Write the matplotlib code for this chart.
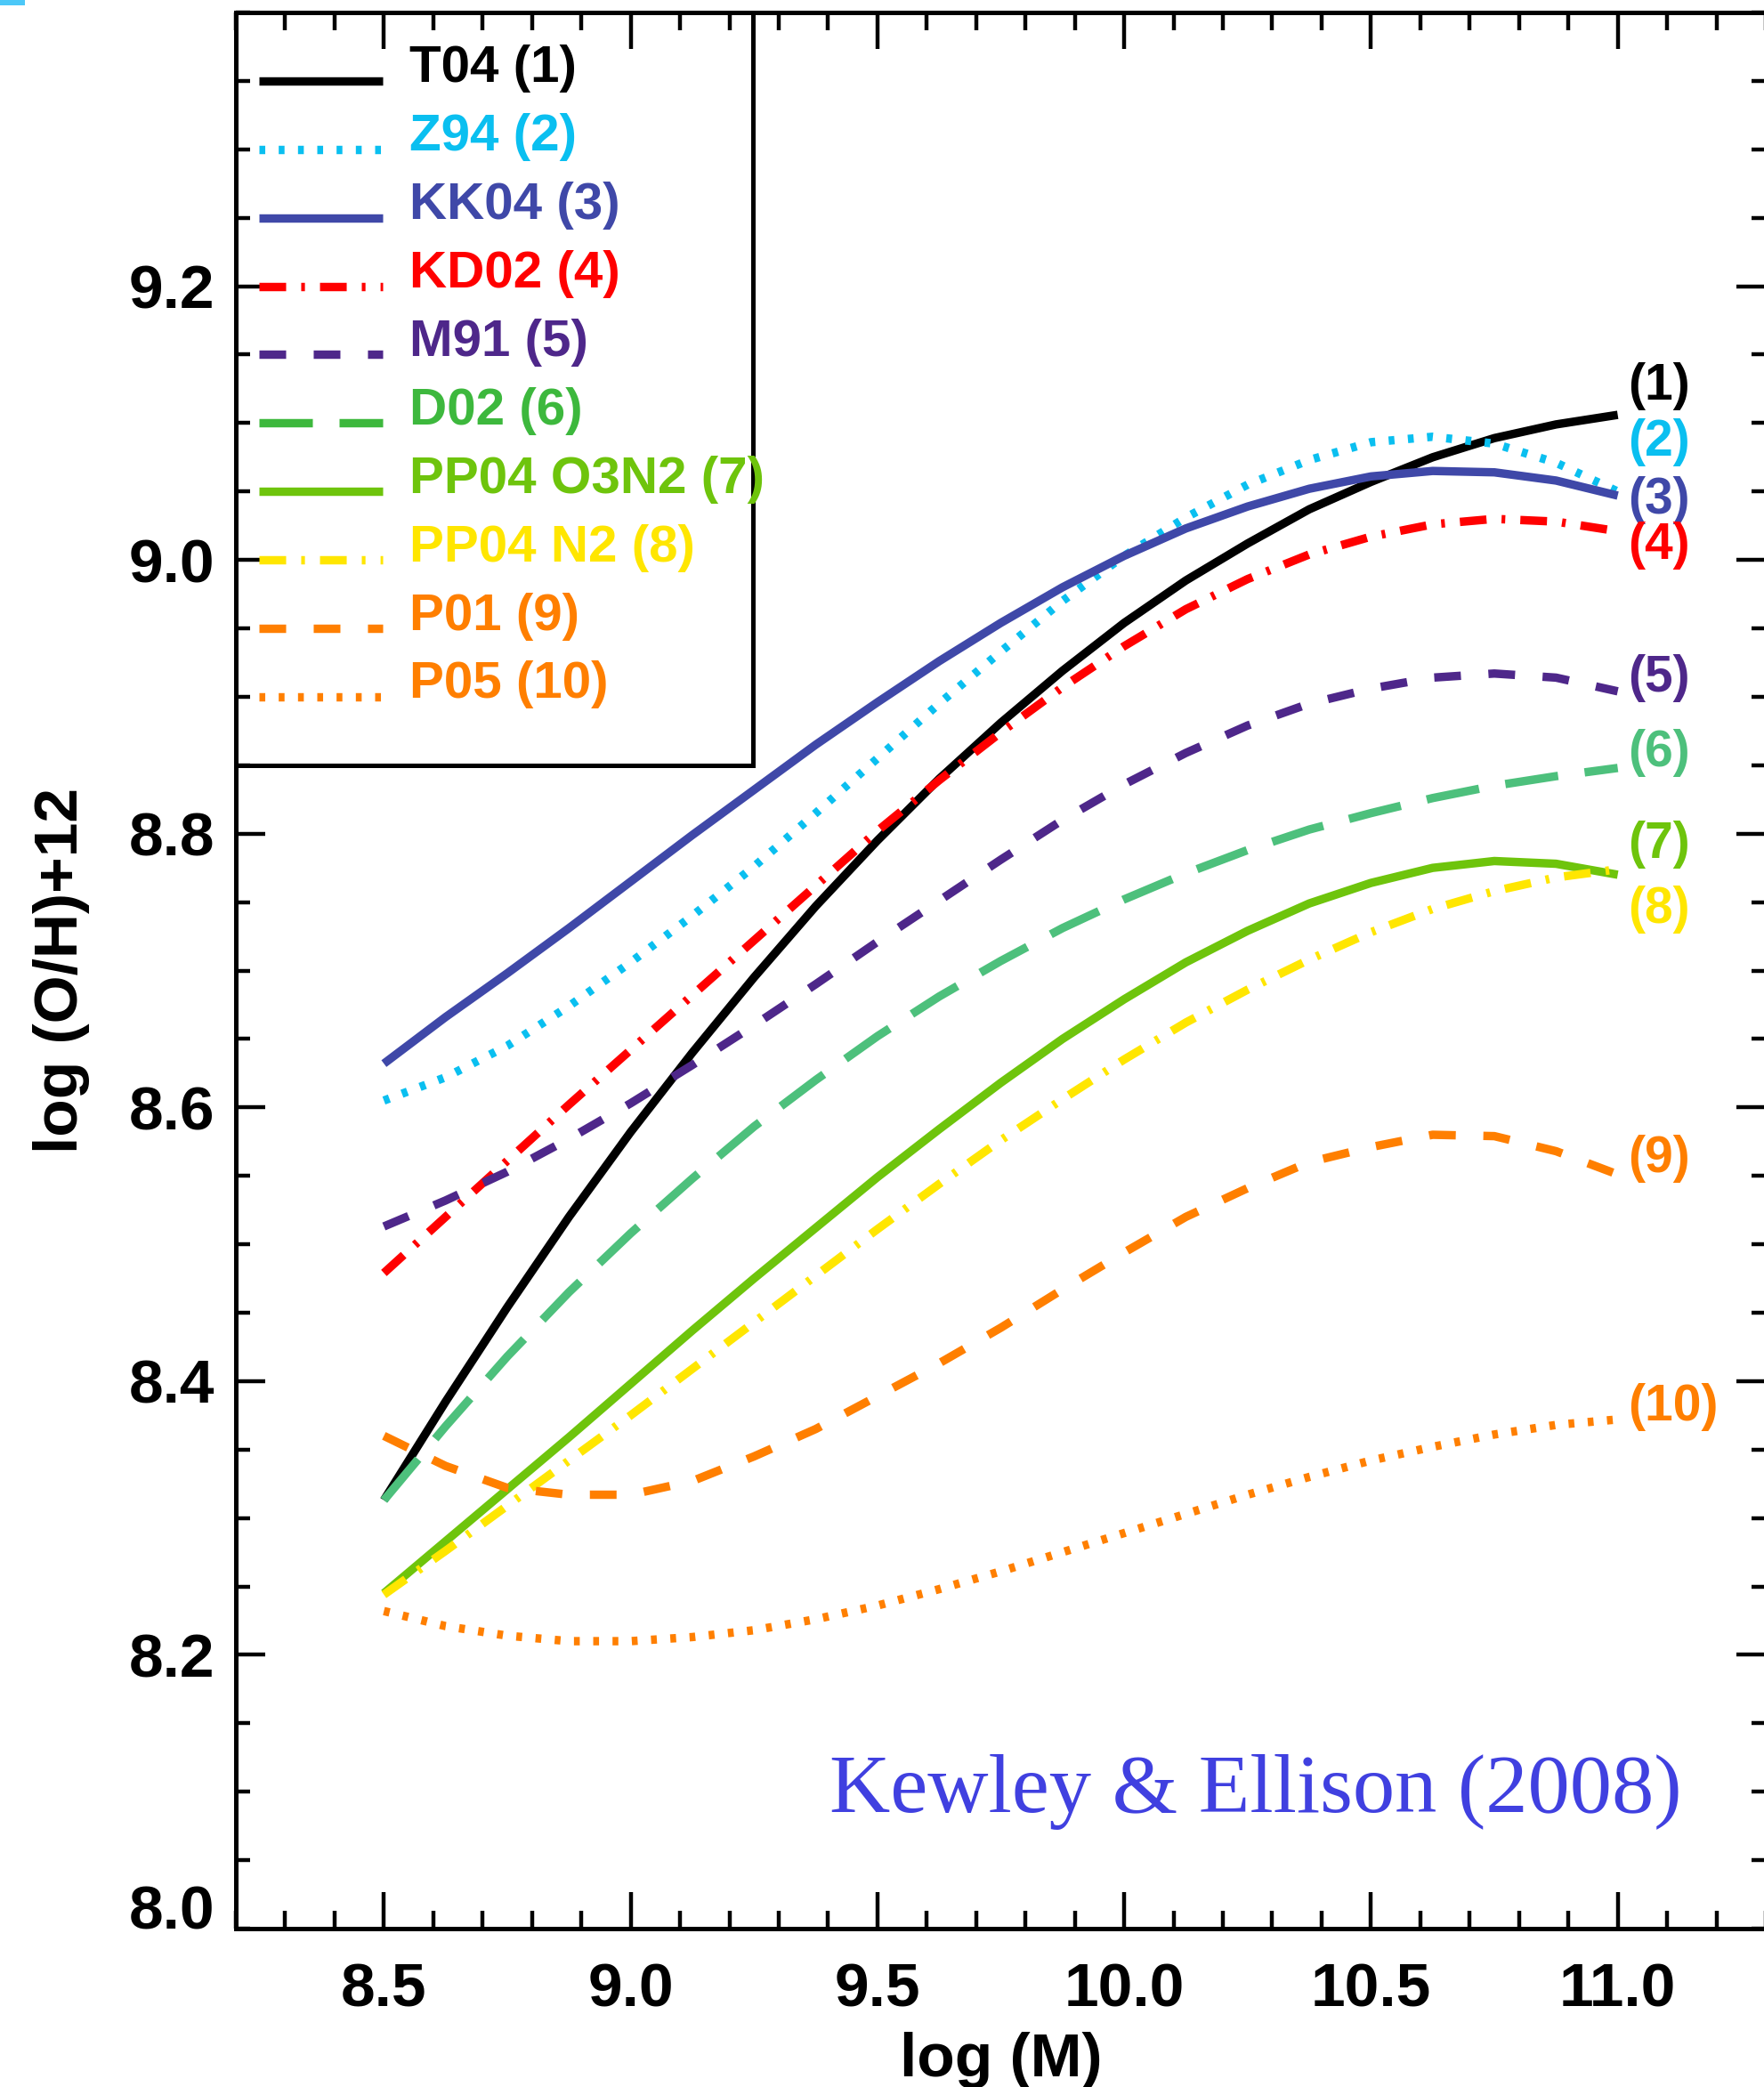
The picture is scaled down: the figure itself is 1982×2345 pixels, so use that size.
import matplotlib
matplotlib.use("Agg")
import matplotlib.pyplot as plt
from matplotlib.ticker import FixedLocator, MultipleLocator, FormatStrFormatter
from matplotlib.patches import Rectangle

plt.rcParams['font.family'] = ['Liberation Sans', 'DejaVu Sans']
plt.rcParams['font.weight'] = 'bold'
plt.rcParams['lines.scale_dashes'] = False

# ---------------- data ----------------
log_mass = [8.5, 8.625, 8.75, 8.875, 9.0, 9.125, 9.25, 9.375, 9.5, 9.625, 9.75,
            9.875, 10.0, 10.125, 10.25, 10.375, 10.5, 10.625, 10.75, 10.875, 11.0]

t04 = [8.313, 8.385, 8.454, 8.520, 8.582, 8.640, 8.695, 8.747, 8.795, 8.840, 8.881,
       8.919, 8.954, 8.985, 9.012, 9.037, 9.057, 9.075, 9.089, 9.099, 9.106]
z94 = [8.605, 8.622, 8.645, 8.674, 8.706, 8.740, 8.776, 8.815, 8.855, 8.895, 8.933,
       8.970, 9.003, 9.031, 9.055, 9.073, 9.086, 9.090, 9.085, 9.071, 9.050]
kk04 = [8.632, 8.666, 8.698, 8.731, 8.765, 8.799, 8.832, 8.865, 8.896, 8.926, 8.954,
        8.980, 9.003, 9.023, 9.039, 9.052, 9.061, 9.065, 9.064, 9.058, 9.047]
kd02 = [8.479, 8.520, 8.561, 8.602, 8.642, 8.682, 8.722, 8.762, 8.802, 8.839, 8.874,
        8.907, 8.937, 8.964, 8.986, 9.004, 9.017, 9.026, 9.030, 9.028, 9.021]
m91 = [8.513, 8.532, 8.553, 8.577, 8.603, 8.631, 8.660, 8.690, 8.721, 8.751, 8.781,
       8.810, 8.836, 8.859, 8.879, 8.895, 8.906, 8.914, 8.917, 8.914, 8.904]
d02 = [8.313, 8.367, 8.418, 8.465, 8.508, 8.548, 8.586, 8.620, 8.652, 8.681, 8.707,
       8.731, 8.752, 8.771, 8.788, 8.803, 8.815, 8.826, 8.835, 8.842, 8.848]
pp04_o3n2 = [8.245, 8.283, 8.321, 8.359, 8.398, 8.437, 8.475, 8.512, 8.549, 8.584, 8.618,
             8.650, 8.679, 8.706, 8.729, 8.749, 8.764, 8.775, 8.780, 8.778, 8.770]
pp04_n2 = [8.244, 8.276, 8.309, 8.342, 8.375, 8.409, 8.443, 8.477, 8.511, 8.544, 8.576,
           8.606, 8.635, 8.662, 8.686, 8.708, 8.728, 8.745, 8.758, 8.768, 8.774]
p01 = [8.360, 8.338, 8.322, 8.317, 8.317, 8.327, 8.345, 8.365, 8.389, 8.413, 8.439,
       8.467, 8.494, 8.520, 8.541, 8.560, 8.571, 8.580, 8.579, 8.568, 8.551]
p05 = [8.232, 8.221, 8.214, 8.210, 8.210, 8.213, 8.218, 8.226, 8.236, 8.248, 8.261,
       8.275, 8.289, 8.303, 8.317, 8.330, 8.342, 8.352, 8.361, 8.368, 8.372]

methods = ["T04", "Z94", "KK04", "KD02", "M91", "D02", "PP04 O3N2", "PP04 N2", "P01", "P05"]
series = [t04, z94, kk04, kd02, m91, d02, pp04_o3n2, pp04_n2, p01, p05]

x_ticks_major = [8.5, 9.0, 9.5, 10.0, 10.5, 11.0]
y_ticks_major = [8.2, 8.4, 8.6, 8.8, 9.0, 9.2]

# ---------------- styles ----------------
curve_colors = ['#000000', '#0ABFF0', '#3F48A8', '#FF0000', '#4E278A',
                '#4DC07C', '#6EC40C', '#FFE600', '#FF7F00', '#FF7F00']
legend_colors = ['#000000', '#0ABFF0', '#3F48A8', '#FF0000', '#4E278A',
                 '#3DB83D', '#6EC40C', '#FFE600', '#FF7F00', '#FF7F00']
dotted = (0, (4.7, 10.9))
dashed = (0, (21.6, 22.3))
longdash = (0, (43.2, 21.6))
dashdot = (0, (21.6, 12.2, 3.0, 12.2))
styles = ['-', dotted, '-', dashdot, dashed, longdash, '-', dashdot, dashed, dotted]
LW = 6.8

W, H = 1982, 2345
fig = plt.figure(figsize=(W / 100, H / 100), dpi=100)
fig.patch.set_facecolor('white')
ax = fig.add_axes([265 / W, 1 - 2167 / H, 1719 / W, 2153 / H])
ax.set_xlim(8.2, 11.3)
ax.set_ylim(8.0, 9.4)

for ys, c, ls in zip(series, curve_colors, styles):
    ax.plot(log_mass, ys, color=c, linestyle=ls, linewidth=LW,
            solid_capstyle='butt', dash_capstyle='butt',
            solid_joinstyle='round', zorder=3)

# ---------------- legend (drawn in data frame, IDL-style) ----------------
leg_x0, leg_x1, leg_tx = 8.247, 8.498, 8.552
leg_top, leg_step = 9.35, 0.05
for i, (m, c, ls) in enumerate(zip(methods, legend_colors, styles)):
    yy = leg_top - i * leg_step
    ax.plot([leg_x0, leg_x1], [yy, yy], color=c, linestyle=ls, linewidth=LW,
            solid_capstyle='butt', dash_capstyle='butt', zorder=4)
    ax.text(leg_tx, yy - 0.001, f"{m} ({i + 1})", color=c, fontsize=42,
            fontweight='bold', ha='left', va='baseline', zorder=6)
ax.add_patch(Rectangle((8.2, 8.85), 1.048, 0.55, fill=False, lw=3.6,
                       ec='black', zorder=5))

# ---------------- end labels ----------------
end_label_x = 11.021
end_label_y = [9.117, 9.076, 9.034, 9.001, 8.904, 8.849, 8.782, 8.735, 8.553, 8.371]
for i, (c, yy) in enumerate(zip(curve_colors, end_label_y)):
    ax.text(end_label_x, yy, f"({i + 1})", color=c, fontsize=41,
            fontweight='bold', ha='left', va='baseline', zorder=6)

ax.text(11.130, 8.0852, "Kewley & Ellison (2008)", color='#4040E0',
        family=['Liberation Serif', 'DejaVu Serif'], fontweight='normal',
        fontsize=68, ha='right', va='baseline', zorder=6)

# ---------------- axes / ticks ----------------
ax.xaxis.set_major_locator(FixedLocator(x_ticks_major))
ax.xaxis.set_minor_locator(MultipleLocator(0.1))
ax.yaxis.set_major_locator(FixedLocator(y_ticks_major))
ax.yaxis.set_minor_locator(MultipleLocator(0.05))
ax.xaxis.set_major_formatter(FormatStrFormatter('%.1f'))
ax.yaxis.set_major_formatter(FormatStrFormatter('%.1f'))
ax.tick_params(which='both', direction='in', top=True, right=True,
               width=3.2, color='black')
ax.tick_params(axis='x', which='major', length=29.5, pad=27, labelsize=50)
ax.tick_params(axis='x', which='minor', length=14.4)
ax.tick_params(axis='y', which='major', length=23.8, pad=17, labelsize=50)
ax.tick_params(axis='y', which='minor', length=11.5)
for sp in ax.spines.values():
    sp.set_linewidth(3.6)

ax.annotate("8.0", xy=(0, 8.0), xycoords=('axes fraction', 'data'),
            xytext=(-17, 0), textcoords='offset points', ha='right',
            va='baseline', fontsize=50, fontweight='bold')

ax.set_xlabel("log (M)", fontsize=50, fontweight='bold', va='baseline')
ax.xaxis.set_label_coords(0.5, -166 / 2153)
ax.set_ylabel("log (O/H)+12", fontsize=50, fontweight='bold', va='center')
ax.yaxis.set_label_coords((69.5 - 265) / 1719, 0.5)

fig.add_artist(Rectangle((0, 1 - 6 / H), 28 / W, 6 / H, transform=fig.transFigure,
                         color='#4CC8F8', lw=0))

fig.savefig('out.png', dpi=100, facecolor='white')
